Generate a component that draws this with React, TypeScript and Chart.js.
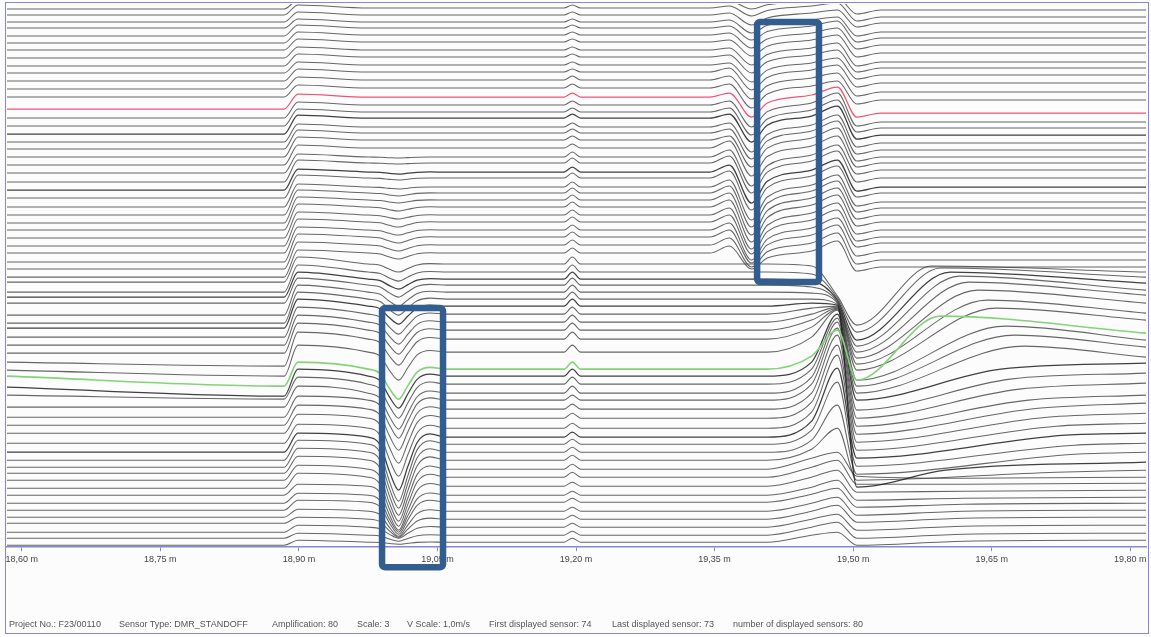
import { useEffect, useRef } from 'react';
import { Chart, registerables } from 'chart.js';

Chart.register(...registerables);

// Along-track position (metres)
const X_MIN = 18.584;
const X_MAX = 19.817;
const TICK_VALUES = [18.6, 18.75, 18.9, 19.05, 19.2, 19.35, 19.5, 19.65, 19.8];

// Trace offsets in display units, top sensor first (35 upper + 34 lower traces).
// Level at the start of the run
const BASE = [
  9, 15, 22, 28, 36, 43, 50, 58, 66, 73, 81, 89, 97, 109, 118, 126, 134, 142, 149, 157,
  165, 173, 182, 190, 198, 207, 215, 223, 230, 238, 246, 253, 262, 269, 277,
  282, 292, 297, 303, 315, 323, 328, 337, 345, 353, 362, 370, 376, 387, 395, 407, 417,
  425, 433, 443, 452, 460, 467, 473, 480, 488, 495, 503, 510, 517, 523, 532, 538, 545,
];
// Level just before the 18,90 m step
const PRE = [
  9, 15, 22, 28, 36, 43, 50, 58, 66, 73, 81, 89, 97, 109, 118, 126, 134, 142, 149, 157,
  165, 173, 182, 190, 198, 207, 215, 223, 230, 238, 246, 253, 262, 269, 277,
  282, 292, 297, 303, 315, 323, 328, 337, 345, 353, 366, 376, 386, 396, 399, 407, 417,
  425, 433, 443, 452, 460, 467, 473, 480, 488, 495, 503, 510, 517, 523, 532, 538, 545,
];
// Top of the step
const STEP = [
  0, 5, 12, 19, 25, 32, 39, 47, 54, 62, 69, 77, 85, 94, 102, 109, 115, 124, 130, 137,
  145, 154, 160, 169, 175, 184, 190, 197, 204, 212, 219, 227, 234, 242, 250,
  257, 265, 272, 278, 285, 292, 299, 307, 315, 323, 332, 345, 362, 369, 377, 386, 396,
  405, 414, 424, 433, 440, 448, 456, 465, 473, 484, 493, 500, 509, 517, 525, 533, 540,
];
// Settled level between the step and 19,35 m
const MID = [
  3, 8, 15, 22, 28, 35, 42, 50, 57, 65, 72, 80, 88, 97, 105, 112, 118, 127, 133, 140,
  148, 157, 163, 172, 178, 187, 193, 200, 207, 215, 222, 230, 237, 245, 253,
  264, 272, 279, 285, 292, 299, 306, 314, 322, 330, 339, 352, 369, 376, 384, 393, 400,
  409, 418, 428, 437, 444, 452, 460, 469, 477, 486, 495, 502, 511, 519, 527, 535, 542,
];
// Depth of the trough near 19,01 m
const DIP = [
  0, 0, 0, 0, 0, 0, 0, 0, 0, 0, 0, 0, 0, 0, 0, 0, 0, 0, 0, 0,
  0, 1, 1, 2, 2, 2, 3, 3, 4, 4, 5, 5, 6, 6, 6,
  8, 9, 10, 12, 14, 16, 18, 20, 22, 24, 26, 28, 30, 32, 34, 36, 38,
  41, 45, 48, 53, 57, 56, 55, 52, 49, 44, 37, 32, 25, 18, 11, 6, 2,
];
// Height of the spike at 19,20 m
const BLIP = [
  3, 3, 3, 3, 3, 3, 3, 3, 3, 3, 3, 4, 4, 4, 4, 4, 4, 4, 4, 4,
  4, 5, 5, 5, 5, 5, 5, 5, 5, 5, 5, 5, 5, 5, 5,
  7, 7, 7, 7, 7, 7, 7, 7, 7, 7, 7, 7, 7, 7, 7, 7, 5,
  5, 5, 5, 5, 5, 5, 5, 5, 5, 4, 4, 4, 4, 4, 4, 4, 4,
];
// Small lift ahead of the 19,39 m trough (upper traces)
const RISE = [
  2, 2, 2, 2, 2, 2, 2, 2, 2, 2, 4, 4, 4, 4, 4, 4, 4, 4, 4, 4,
  7, 7, 7, 7, 7, 7, 7, 7, 7, 7, 7, 7, 7, 7, 7,
  0, 0, 0, 0, 0, 0, 0, 0, 0, 0, 0, 0, 0, 0, 0, 0, 0,
  0, 0, 0, 0, 0, 0, 0, 0, 0, 0, 0, 0, 0, 0, 0, 0, 0,
];
// Depth of the 19,39 m trough (upper traces)
const UDIP = [
  6, 8, 10, 11, 12, 13, 14, 15, 16, 17, 18, 19, 20, 20, 22, 23, 24, 25, 26, 27,
  28, 29, 30, 31, 32, 33, 34, 35, 35, 34, 32, 30, 26, 22, 16,
  0, 0, 0, 0, 0, 0, 0, 0, 0, 0, 0, 0, 0, 0, 0, 0, 0,
  0, 0, 0, 0, 0, 0, 0, 0, 0, 0, 0, 0, 0, 0, 0, 0, 0,
];
// Level at 19,455 m
const APPROACH = [
  1, 6, 13, 20, 26, 33, 40, 48, 55, 63, 70, 78, 86, 95, 103, 110, 116, 125, 131, 138,
  146, 155, 161, 170, 176, 185, 191, 198, 205, 213, 220, 228, 235, 243, 251,
  266, 274, 281, 287, 293, 299, 303, 308, 314, 320, 327, 337, 356, 362, 369, 377, 384,
  393, 402, 412, 421, 430, 440, 449, 458, 467, 477, 487, 494, 503, 511, 519, 527, 535,
];
// Crest just before 19,50 m
const PEAK = [
  -2, 3, 10, 17, 21, 28, 35, 43, 50, 58, 65, 73, 81, 87, 93, 100, 106, 115, 121, 128,
  136, 145, 151, 160, 166, 175, 181, 188, 195, 203, 210, 218, 225, 233, 241,
  296, 298, 300, 302, 303, 304, 305, 306, 307, 308, 309, 310, 330, 314, 318, 322, 328,
  335, 345, 355, 368, 382, 405, 428, 452, 460, 470, 480, 488, 497, 505, 514, 522, 532,
];
// Bottom of the drop at 19,50 m
const LOW = [
  14, 21, 27, 36, 42, 49, 57, 66, 72, 79, 87, 96, 104, 117, 126, 132, 139, 147, 154, 161,
  167, 174, 182, 191, 197, 206, 212, 219, 226, 234, 241, 247, 256, 264, 271,
  325, 332, 340, 346, 352, 358, 487, 364, 370, 380, 386, 393, 380, 400, 410, 418, 426,
  434, 442, 450, 458, 466, 474, 480, 476, 484, 492, 500, 507, 515, 522, 530, 538, 545,
];
// Recovery point after the drop: position (m) and level
const REC_X = [
  19.53, 19.53, 19.53, 19.53, 19.53, 19.53, 19.53, 19.53, 19.53, 19.53, 19.53, 19.53, 19.53, 19.53, 19.53, 19.53, 19.53, 19.53, 19.53, 19.53,
  19.53, 19.53, 19.53, 19.53, 19.53, 19.53, 19.53, 19.53, 19.53, 19.53, 19.53, 19.53, 19.53, 19.53, 19.53,
  19.585, 19.595, 19.605, 19.615, 19.625, 19.635, 19.6, 19.645, 19.655, 19.665, 19.675, 19.685, 19.594, 19.66, 19.67, 19.68, 19.69,
  19.7, 19.71, 19.72, 19.73, 19.74, 19.74, 19.72, 19.62, 19.62, 19.62, 19.62, 19.62, 19.62, 19.62, 19.62, 19.62, 19.62,
];
const REC_Y = [
  10, 17, 23, 32, 38, 45, 53, 62, 68, 75, 83, 92, 100, 113, 122, 128, 135, 143, 150, 157,
  163, 170, 178, 187, 193, 202, 208, 215, 222, 230, 237, 243, 252, 260, 267,
  266, 268, 272, 276, 282, 290, 470, 300, 308, 326, 335, 346, 316, 369, 379, 389, 400,
  408, 417, 426, 435, 445, 454, 472, 478, 484, 491, 498, 504, 511, 518, 526, 534, 541,
];
// Level at the end of the run
const END = [
  10, 17, 23, 32, 38, 45, 53, 62, 68, 75, 83, 92, 100, 113, 122, 128, 135, 143, 150, 157,
  163, 170, 178, 187, 193, 202, 208, 215, 222, 230, 237, 243, 252, 260, 267,
  272, 277, 283, 290, 295, 303, 462, 313, 320, 340, 347, 357, 333, 363, 373, 383, 395,
  403, 413, 423, 433, 443, 452, 470, 477, 483, 490, 497, 503, 510, 517, 525, 533, 540,
];

const RED_TRACE = 13;
const GREEN_TRACE = 47;
const DARK_TRACES = [16, 23, 37, 41, 48, 55];

// Highlight frames: x range in metres, y range in display units
const HIGHLIGHTS = [
  { x0: 18.99, x1: 19.056, y0: 308, y1: 567 },
  { x0: 19.396, x1: 19.463, y0: 22, y1: 282 },
];

const FOOTER = [
  { left: 9, text: 'Project No.: F23/00110' },
  { left: 119, text: 'Sensor Type: DMR_STANDOFF' },
  { left: 272, text: 'Amplification: 80' },
  { left: 357, text: 'Scale: 3' },
  { left: 407, text: 'V Scale: 1,0m/s' },
  { left: 489, text: 'First displayed sensor: 74' },
  { left: 612, text: 'Last displayed sensor: 73' },
  { left: 733, text: 'number of displayed sensors: 80' },
];

const FRAME = '#8a86d4';
const FONT = '"Liberation Sans", Arial, sans-serif';

function tracePoints(k: number) {
  const m = MID[k];
  const d = DIP[k];
  const u = UDIP[k];
  return [
    { x: X_MIN, y: BASE[k] },
    { x: 18.884, y: PRE[k] },
    { x: 18.899, y: STEP[k] },
    { x: 18.975, y: m },
    // trough near 19,01 m
    { x: 18.988, y: m + 0.15 * d },
    { x: 18.998, y: m + 0.65 * d },
    { x: 19.008, y: m + d },
    { x: 19.018, y: m + 0.55 * d },
    { x: 19.028, y: m + 0.1 * d },
    { x: 19.042, y: m - 0.06 * d },
    { x: 19.06, y: m },
    // spike at 19,20 m
    { x: 19.187, y: m },
    { x: 19.196, y: m - BLIP[k] },
    { x: 19.205, y: m },
    { x: 19.345, y: m },
    // 19,35 - 19,50 m event
    { x: 19.366, y: m - RISE[k] },
    { x: 19.39, y: m + u },
    { x: 19.407, y: m + 0.3 * u },
    { x: 19.455, y: APPROACH[k] },
    { x: 19.483, y: PEAK[k] },
    { x: 19.504, y: LOW[k] },
    { x: REC_X[k], y: REC_Y[k] },
    { x: X_MAX, y: END[k] },
  ];
}

function traceStyle(k: number) {
  if (k === RED_TRACE) return { color: '#ec5570', width: 1.2 };
  if (k === GREEN_TRACE) return { color: '#86d27a', width: 1.6 };
  if (DARK_TRACES.includes(k)) return { color: 'rgba(30,30,30,0.85)', width: 1.25 };
  return { color: 'rgba(60,60,60,0.78)', width: 1.05 };
}

const highlightPlugin = {
  id: 'highlightFrames',
  afterDatasetsDraw(chart: any) {
    const { ctx, scales } = chart;
    ctx.save();
    ctx.strokeStyle = '#325d8e';
    ctx.lineWidth = 6.5;
    for (const h of HIGHLIGHTS) {
      const x0 = scales.x.getPixelForValue(h.x0);
      const x1 = scales.x.getPixelForValue(h.x1);
      const y0 = scales.y.getPixelForValue(h.y0);
      const y1 = scales.y.getPixelForValue(h.y1);
      ctx.beginPath();
      ctx.roundRect(x0, y0, x1 - x0, y1 - y0, 3);
      ctx.stroke();
    }
    ctx.restore();
  },
};

export default function App() {
  const ref = useRef<HTMLCanvasElement>(null);

  useEffect(() => {
    if (!ref.current) return;
    const datasets = BASE.map((_, k) => {
      const s = traceStyle(k);
      return {
        label: `Sensor ${k + 1}`,
        data: tracePoints(k),
        borderColor: s.color,
        borderWidth: s.width,
        pointRadius: 0,
        fill: false,
        cubicInterpolationMode: 'monotone' as const,
        order: k === RED_TRACE || k === GREEN_TRACE ? 0 : 1,
      };
    });
    const chart = new Chart(ref.current, {
      type: 'line',
      data: { datasets },
      options: {
        animation: false,
        responsive: false,
        maintainAspectRatio: false,
        layout: { padding: { left: 7, right: 5, top: 4, bottom: 69 } },
        plugins: { legend: { display: false }, tooltip: { enabled: false } },
        scales: {
          x: {
            type: 'linear',
            min: X_MIN,
            max: X_MAX,
            afterBuildTicks: (axis: any) => {
              axis.ticks = TICK_VALUES.map((v) => ({ value: v }));
            },
            ticks: {
              autoSkip: false,
              maxRotation: 0,
              padding: 3,
              color: '#444',
              font: { family: FONT, size: 9 },
              callback: (v: any) => `${Number(v).toFixed(2).replace('.', ',')} m`,
            },
            grid: { drawOnChartArea: false, drawTicks: true, tickLength: 4, color: FRAME },
            border: { display: true, color: FRAME, width: 1.5 },
          },
          y: { type: 'linear', reverse: true, min: 4, max: 547, display: false },
        },
      },
      plugins: [highlightPlugin],
    });
    return () => chart.destroy();
  }, []);

  return (
    <div
      style={{
        position: 'fixed',
        left: 0,
        top: 0,
        width: 1151,
        height: 637,
        background: '#fcfcfc',
        fontFamily: FONT,
        overflow: 'hidden',
      }}
    >
      <canvas ref={ref} width={1151} height={637} style={{ position: 'absolute', left: 0, top: 0 }} />
      <div
        style={{
          position: 'absolute',
          left: 5,
          top: 2,
          width: 1144,
          height: 632,
          border: `1.5px solid ${FRAME}`,
          boxSizing: 'border-box',
          pointerEvents: 'none',
        }}
      />
      {FOOTER.map((f) => (
        <span
          key={f.text}
          style={{
            position: 'absolute',
            left: f.left,
            top: 618,
            fontSize: 9,
            lineHeight: '12px',
            color: '#555',
            whiteSpace: 'nowrap',
          }}
        >
          {f.text}
        </span>
      ))}
    </div>
  );
}
